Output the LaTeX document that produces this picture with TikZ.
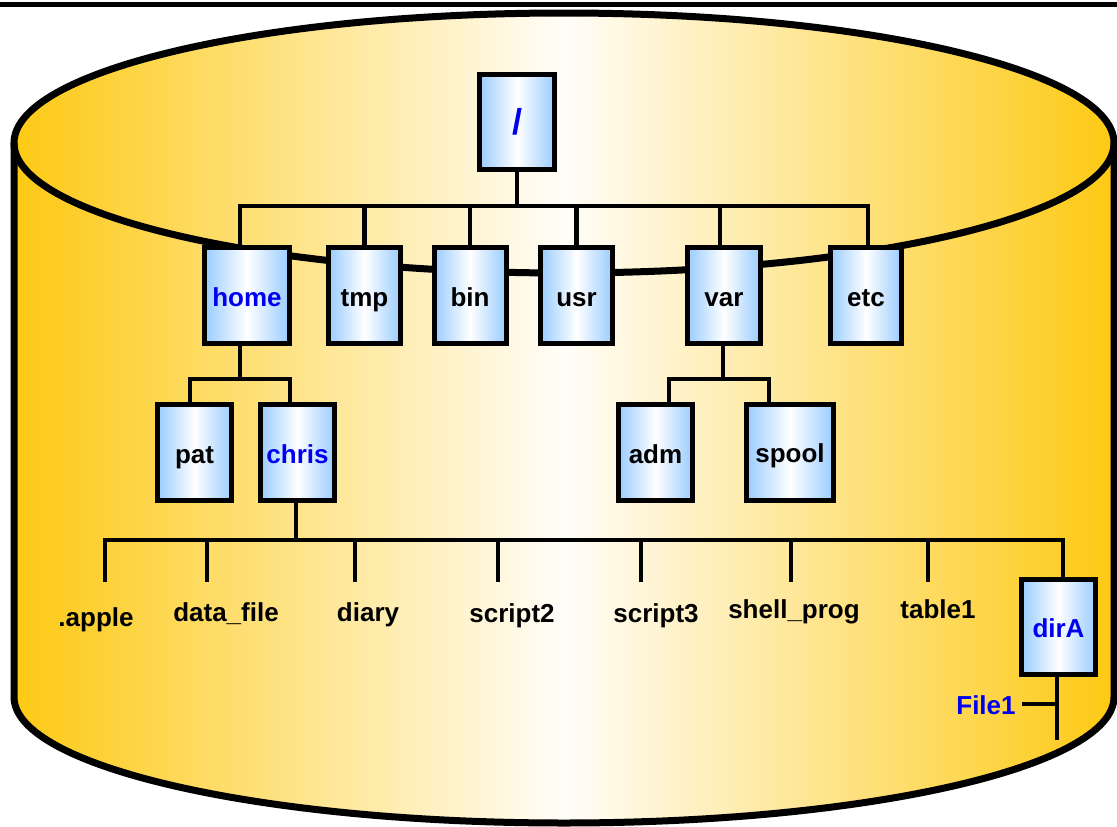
\documentclass[tikz,border=0pt]{standalone}
\usepackage{fontspec}
\setmainfont{Liberation Sans}
\definecolor{cylY}{HTML}{FDC913}
\definecolor{cylW}{HTML}{FFFDF9}
\definecolor{boxB}{HTML}{99CCFF}
\definecolor{txtB}{HTML}{0000F0}
\pgfdeclarelayer{disk}
\pgfdeclarelayer{links}
\pgfsetlayers{disk,links,main}
\begin{document}
\begin{tikzpicture}[x=1pt,y=-1pt,
  conn/.style={line width=4.5pt, line cap=rect, line join=miter},
  dirbox/.style={draw, line width=5pt, left color=boxB, right color=boxB,
    middle color=white, minimum height=96pt, minimum width=73pt, inner sep=0pt,
    text height=23pt, text depth=2pt,
    font=\fontsize{26}{31}\selectfont\bfseries, text=black},
  hl/.style={text=txtB},
  fname/.style={anchor=base, inner sep=0pt,
    font=\fontsize{26}{31}\selectfont\bfseries}]
\useasboundingbox (0,0) rectangle (1117,827);

% rule across the top
\draw[line width=5pt] (0,4) -- (1117,4);

% disk cylinder
\begin{pgfonlayer}{disk}
\shade[left color=cylY, right color=cylY, middle color=cylW]
  (14,143) -- (14,697) arc[start angle=180, end angle=360, x radius=550pt, y radius=126pt]
  -- (1114,143) arc[start angle=0, end angle=180, x radius=550pt, y radius=130pt] -- cycle;
\draw[line width=7pt, line join=round]
  (14,143) -- (14,697) arc[start angle=180, end angle=360, x radius=550pt, y radius=126pt]
  -- (1114,143);
\draw[line width=7pt] (564,143) ellipse[x radius=550pt, y radius=130pt];
\end{pgfonlayer}

% directories
\node[dirbox, minimum width=75pt, minimum height=95pt, hl,
  font=\fontsize{36}{40}\selectfont\bfseries, text height=26pt, text depth=1pt] (root) at (517,121.5) {/};
\node[dirbox, minimum width=85pt, hl] (home) at (247,295.5) {home};
\node[dirbox, minimum width=72pt] (tmp) at (364.5,295.5) {tmp};
\node[dirbox, minimum width=72pt] (bin) at (470,295.5) {bin};
\node[dirbox, minimum width=72pt] (usr) at (576.5,295.5) {usr};
\node[dirbox, minimum width=73pt] (var) at (724,295.5) {var};
\node[dirbox, minimum width=71pt] (etc) at (866,295.5) {etc};
\node[dirbox, minimum width=74pt] (pat) at (194.5,452.5) {pat};
\node[dirbox, minimum width=74pt, hl] (chris) at (297.5,452.5) {chris};
\node[dirbox, minimum width=74pt] (adm) at (655.5,452.5) {adm};
\node[dirbox, minimum width=87pt] (spool) at (790,452) {spool};
\node[dirbox, minimum width=74pt, minimum height=95pt, hl] (dirA) at (1058.5,627) {dirA};

% files in chris
\node[fname] (apple) at (96,626) {.apple};
\node[fname] (datafile) at (226,621) {data\_file};
\node[fname] (diary) at (368,621) {diary};
\node[fname] (script2) at (512,622) {script2};
\node[fname] (script3) at (656,622) {script3};
\node[fname] (shellprog) at (794,618) {shell\_prog};
\node[fname] (table1) at (938,618) {table1};
\node[fname, text=txtB] (file1) at (986,714) {File1};

% tree connectors
\begin{pgfonlayer}{links}
\coordinate (rootbus) at (517,206);
\draw[conn] (root.south) -- (rootbus);
\draw[conn] ([xshift=-7pt]home.north) |- (rootbus) -| ([xshift=2pt]etc.north);
\foreach \n in {tmp,bin,usr} \draw[conn] (\n.north) -- (\n.north |- rootbus);
\draw[conn] ([xshift=-4pt]var.north) -- ([xshift=-4pt]var.north |- rootbus);

\coordinate (homebus) at (240,379);
\draw[conn] ([xshift=-7pt]home.south) -- (homebus);
\draw[conn] ([xshift=-4.5pt]pat.north) |- (homebus) -| ([xshift=-7.5pt]chris.north);

\coordinate (varbus) at (723,379);
\draw[conn] ([xshift=-1pt]var.south) -- (varbus);
\draw[conn] ([xshift=13.5pt]adm.north) |- (varbus) -| ([xshift=-21pt]spool.north);

\coordinate (chrisbus) at (296,540);
\coordinate (f1) at (105,580);
\coordinate (f2) at (207,580);
\coordinate (f3) at (355,580);
\coordinate (f4) at (498,580);
\coordinate (f5) at (641,580);
\coordinate (f6) at (791,580);
\coordinate (f7) at (928,580);
\draw[conn] ([xshift=-1.5pt]chris.south) -- (chrisbus);
\draw[conn] (f1) |- (chrisbus) -| ([xshift=4.5pt]dirA.north);
\foreach \f in {f2,f3,f4,f5,f6,f7} \draw[conn] (\f) -- (\f |- chrisbus);

\coordinate (dirAend) at (1057,738);
\coordinate (tick) at (1057,704);
\draw[conn] ([xshift=-1.5pt]dirA.south) -- (dirAend);
\draw[conn] ([xshift=8pt]file1.east |- tick) -- (tick);
\end{pgfonlayer}
\end{tikzpicture}
\end{document}
